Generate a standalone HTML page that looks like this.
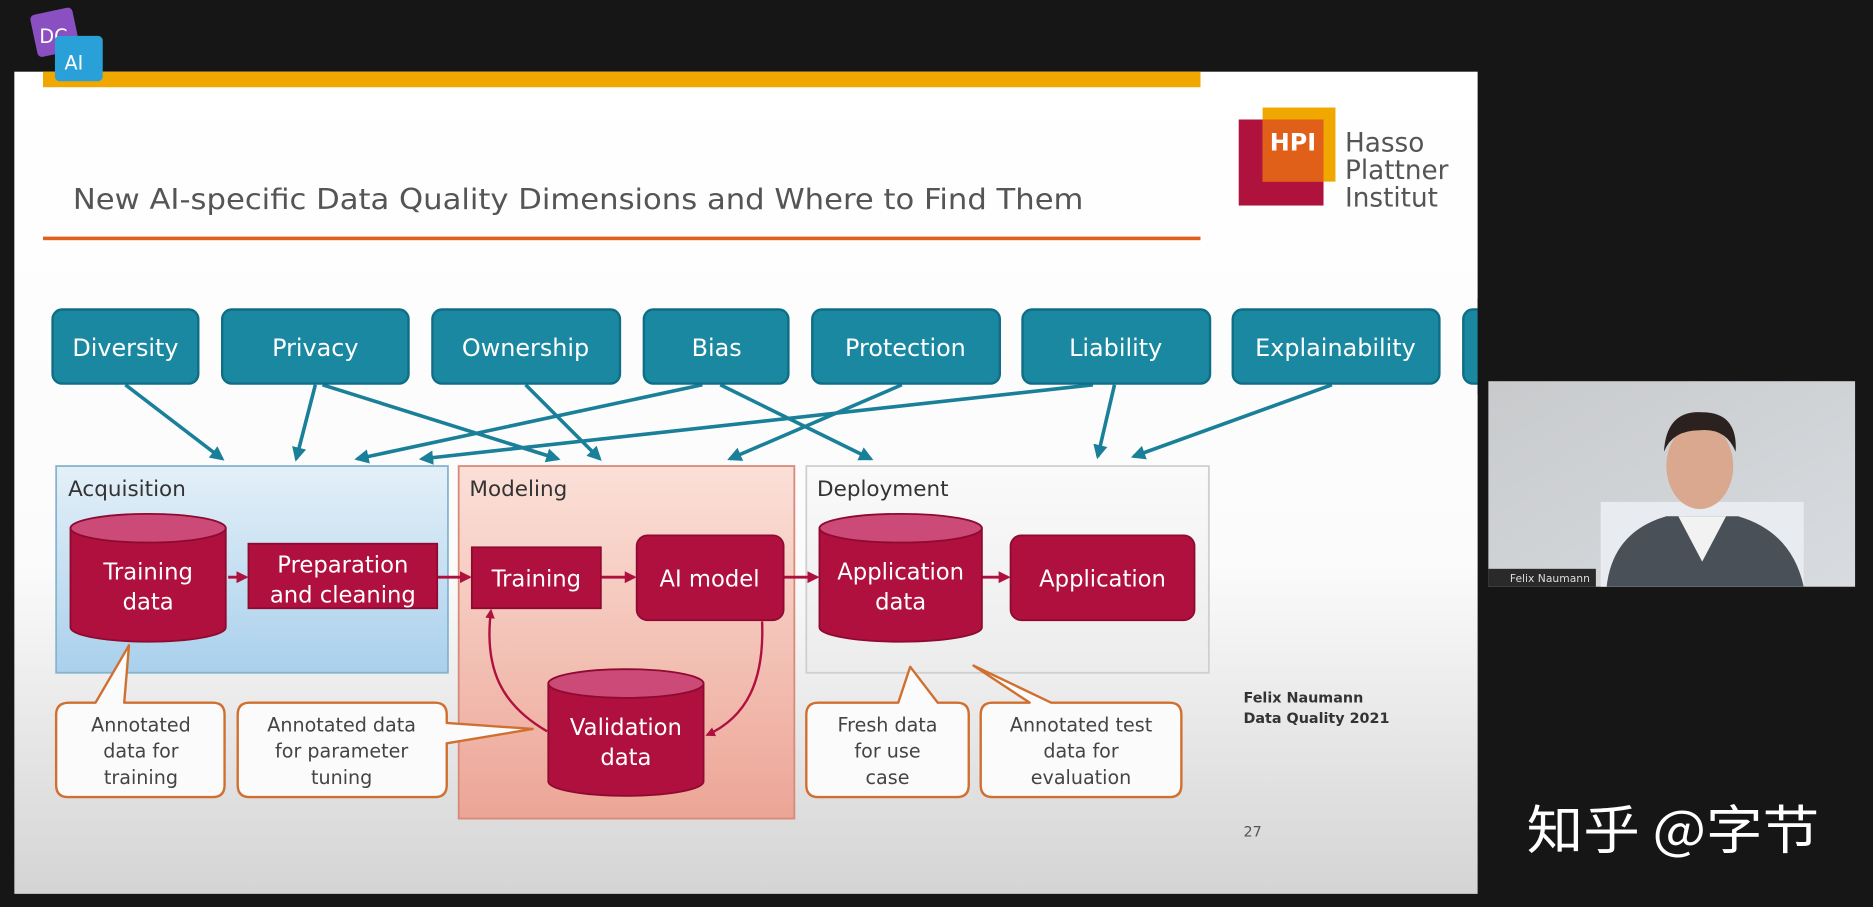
<!DOCTYPE html>
<html><head><meta charset="utf-8"><style>
html,body{margin:0;padding:0;background:#161616;width:1873px;height:907px;overflow:hidden}
svg{display:block}
text{font-family:"DejaVu Sans","Liberation Sans",sans-serif}
</style></head><body>
<svg width="1873" height="907" viewBox="0 0 1568 759" preserveAspectRatio="none" xmlns="http://www.w3.org/2000/svg">
<defs>
<linearGradient id="slide" x1="0" y1="0" x2="0" y2="1">
<stop offset="0" stop-color="#ffffff"/><stop offset="0.6" stop-color="#fbfbfb"/><stop offset="1" stop-color="#d4d4d4"/></linearGradient>
<linearGradient id="acq" x1="0" y1="0" x2="0" y2="1">
<stop offset="0" stop-color="#e4f0f8"/><stop offset="1" stop-color="#a9d0ec"/></linearGradient>
<linearGradient id="mod" x1="0" y1="0" x2="0" y2="1">
<stop offset="0" stop-color="#fbe0d8"/><stop offset="1" stop-color="#eca596"/></linearGradient>
<linearGradient id="dep" x1="0" y1="0" x2="0" y2="1">
<stop offset="0" stop-color="#fafafa"/><stop offset="1" stop-color="#ececec"/></linearGradient>
<linearGradient id="cam" x1="0" y1="0" x2="1" y2="1">
<stop offset="0" stop-color="#c8cacc"/><stop offset="1" stop-color="#d8dce0"/></linearGradient>
<marker id="ta" viewBox="0 0 10 10" refX="8" refY="5" markerWidth="4" markerHeight="4" orient="auto"><path d="M0,0L10,5L0,10z" fill="#1a7f98"/></marker>
<marker id="ra" viewBox="0 0 10 10" refX="8" refY="5" markerWidth="4" markerHeight="4" orient="auto"><path d="M0,0L10,5L0,10z" fill="#b0103e"/></marker>
</defs>
<rect width="1568" height="759" fill="#161616"/>
<!-- slide -->
<rect x="12" y="60" width="1225" height="688" fill="url(#slide)"/>
<rect x="36" y="60" width="969" height="13" fill="#f0a800"/>
<!-- DC AI logo -->
<rect x="28" y="9" width="36" height="36" rx="4" fill="#8a4fc0" transform="rotate(-12 46 27)"/>
<text x="33" y="36" font-size="16" fill="#fff">DC</text>
<rect x="46" y="30" width="40" height="38" rx="4" fill="#2aa0d8"/>
<text x="54" y="58" font-size="16" fill="#fff">AI</text>
<text x="61" y="175" font-size="24" fill="#555" textLength="846" lengthAdjust="spacingAndGlyphs">New AI-specific Data Quality Dimensions and Where to Find Them</text>
<rect x="36" y="198" width="969" height="3" fill="#e0601e"/>
<!-- HPI logo -->
<rect x="1037" y="100" width="71" height="72" fill="#b0123e"/>
<rect x="1057" y="90" width="61" height="62" fill="#f0a800"/>
<rect x="1057" y="100" width="51" height="52" fill="#e0601a"/>
<text x="1063" y="126" font-size="20" font-weight="bold" fill="#fff">HPI</text>
<text x="1126" y="127" font-size="22" fill="#555">Hasso</text>
<text x="1126" y="150" font-size="22" fill="#555">Plattner</text>
<text x="1126" y="173" font-size="22" fill="#555">Institut</text>
<!-- phase boxes -->
<rect x="47" y="390" width="328" height="173" fill="url(#acq)" stroke="#86b4cc" stroke-width="1.5"/>
<rect x="384" y="390" width="281" height="295" fill="url(#mod)" stroke="#d88a78" stroke-width="1.5"/>
<rect x="675" y="390" width="337" height="173" fill="url(#dep)" stroke="#cfcfcf" stroke-width="1.5"/>
<text x="57" y="415" font-size="18" fill="#333">Acquisition</text>
<text x="393" y="415" font-size="18" fill="#333">Modeling</text>
<text x="684" y="415" font-size="18" fill="#333">Deployment</text>
<!-- teal arrows -->
<g stroke="#1a7f98" stroke-width="3" fill="none" marker-end="url(#ta)">
<line x1="105" y1="322" x2="186" y2="384"/>
<line x1="264" y1="322" x2="248" y2="384"/>
<line x1="270" y1="322" x2="467" y2="384"/>
<line x1="440" y1="322" x2="502" y2="384"/>
<line x1="588" y1="322" x2="299" y2="384"/>
<line x1="603" y1="322" x2="729" y2="384"/>
<line x1="755" y1="322" x2="611" y2="384"/>
<line x1="915" y1="322" x2="353" y2="384"/>
<line x1="933" y1="322" x2="919" y2="382"/>
<line x1="1115" y1="322" x2="949" y2="382"/>
</g>
<!-- teal boxes -->
<g fill="#1a88a0" stroke="#0f6e86" stroke-width="2">
<rect x="44" y="259" width="122" height="62" rx="8"/>
<rect x="186" y="259" width="156" height="62" rx="8"/>
<rect x="362" y="259" width="157" height="62" rx="8"/>
<rect x="539" y="259" width="121" height="62" rx="8"/>
<rect x="680" y="259" width="157" height="62" rx="8"/>
<rect x="856" y="259" width="157" height="62" rx="8"/>
<rect x="1032" y="259" width="173" height="62" rx="8"/>
<rect x="1225" y="259" width="30" height="62" rx="8"/>
</g>
<rect x="1237" y="250" width="30" height="80" fill="#161616"/>
<g fill="#fff" font-size="20" text-anchor="middle">
<text x="105" y="298">Diversity</text>
<text x="264" y="298">Privacy</text>
<text x="440" y="298">Ownership</text>
<text x="600" y="298">Bias</text>
<text x="758" y="298">Protection</text>
<text x="934" y="298">Liability</text>
<text x="1118" y="298">Explainability</text>
</g>
<!-- crimson flow arrows -->
<g stroke="#b0103e" stroke-width="2.5" fill="none" marker-end="url(#ra)">
<line x1="191" y1="483" x2="206" y2="483"/>
<line x1="366" y1="483" x2="393" y2="483"/>
<line x1="503" y1="483" x2="531" y2="483"/>
<line x1="656" y1="483" x2="684" y2="483"/>
<line x1="822" y1="483" x2="844" y2="483"/>
<path d="M458,612 C420,590 405,560 411,511" stroke-width="2"/>
<path d="M638,520 C640,570 625,600 592,615" stroke-width="2"/>
</g>
<!-- crimson shapes -->
<g fill="#b0103e" stroke="#8e0a30" stroke-width="1.5">
<path d="M59,442 L59,525 A65,12 0 0 0 189,525 L189,442 Z"/>
<path d="M686,442 L686,525 A68,12 0 0 0 822,525 L822,442 Z"/>
<path d="M459,572 L459,654 A65,12 0 0 0 589,654 L589,572 Z"/>
<rect x="208" y="455" width="158" height="54"/>
<rect x="395" y="458" width="108" height="51"/>
<rect x="533" y="448" width="123" height="71" rx="9"/>
<rect x="846" y="448" width="154" height="71" rx="9"/>
</g>
<g fill="#cc4a78" stroke="#8e0a30" stroke-width="1.5">
<ellipse cx="124" cy="442" rx="65" ry="12"/>
<ellipse cx="754" cy="442" rx="68" ry="12"/>
<ellipse cx="524" cy="572" rx="65" ry="12"/>
</g>
<g fill="#fff" font-size="19" text-anchor="middle">
<text x="124" y="485">Training</text><text x="124" y="510">data</text>
<text x="287" y="479">Preparation</text><text x="287" y="504">and cleaning</text>
<text x="449" y="491">Training</text>
<text x="594" y="491">AI model</text>
<text x="754" y="485">Application</text><text x="754" y="510">data</text>
<text x="923" y="491">Application</text>
<text x="524" y="615">Validation</text><text x="524" y="640">data</text>
</g>
<!-- callouts -->
<g fill="#fbfbfb" stroke="#d07030" stroke-width="2" stroke-linejoin="round">
<path d="M58,588 L80,588 L108,540 L104,588 L178,588 Q188,588 188,598 L188,657 Q188,667 178,667 L57,667 Q47,667 47,657 L47,598 Q47,588 58,588Z"/>
<path d="M209,588 L364,588 Q374,588 374,598 L374,605 L446,610 L374,622 L374,657 Q374,667 364,667 L209,667 Q199,667 199,657 L199,598 Q199,588 209,588Z"/>
<path d="M685,588 L752,588 L762,558 L785,588 L801,588 Q811,588 811,598 L811,657 Q811,667 801,667 L685,667 Q675,667 675,657 L675,598 Q675,588 685,588Z"/>
<path d="M831,588 L862,588 L815,557 L880,588 L979,588 Q989,588 989,598 L989,657 Q989,667 979,667 L831,667 Q821,667 821,657 L821,598 Q821,588 831,588Z"/>
</g>
<g fill="#444" font-size="16" text-anchor="middle">
<text x="118" y="612">Annotated</text><text x="118" y="634">data for</text><text x="118" y="656">training</text>
<text x="286" y="612">Annotated data</text><text x="286" y="634">for parameter</text><text x="286" y="656">tuning</text>
<text x="743" y="612">Fresh data</text><text x="743" y="634">for use</text><text x="743" y="656">case</text>
<text x="905" y="612">Annotated test</text><text x="905" y="634">data for</text><text x="905" y="656">evaluation</text>
</g>
<text x="1041" y="588" font-size="12" font-weight="bold" fill="#333">Felix Naumann</text>
<text x="1041" y="605" font-size="12" font-weight="bold" fill="#333">Data Quality 2021</text>
<text x="1041" y="700" font-size="12" fill="#555">27</text>
<!-- webcam -->
<rect x="1246" y="319" width="307" height="172" fill="url(#cam)"/>
<rect x="1340" y="420" width="170" height="71" fill="#e8ecf0"/>
<path d="M1345,491 Q1350,445 1395,432 L1455,432 Q1500,445 1510,491Z" fill="#4a5058"/>
<path d="M1405,432 L1425,470 L1445,432Z" fill="#f2f2f2"/>
<ellipse cx="1423" cy="390" rx="28" ry="36" fill="#d9a88e"/>
<path d="M1393,378 Q1395,343 1425,345 Q1455,345 1453,378 Q1445,358 1423,360 Q1400,360 1393,378Z" fill="#2b2220"/>
<rect x="1246" y="476" width="90" height="15" fill="#2a2a2a"/>
<text x="1264" y="487" font-size="9" fill="#ddd">Felix Naumann</text>
<text x="1278" y="710" font-size="44" fill="#fff" textLength="245" lengthAdjust="spacingAndGlyphs" style="font-family:'Noto Sans CJK SC',sans-serif">知乎 @字节</text>
</svg>
</body></html>
